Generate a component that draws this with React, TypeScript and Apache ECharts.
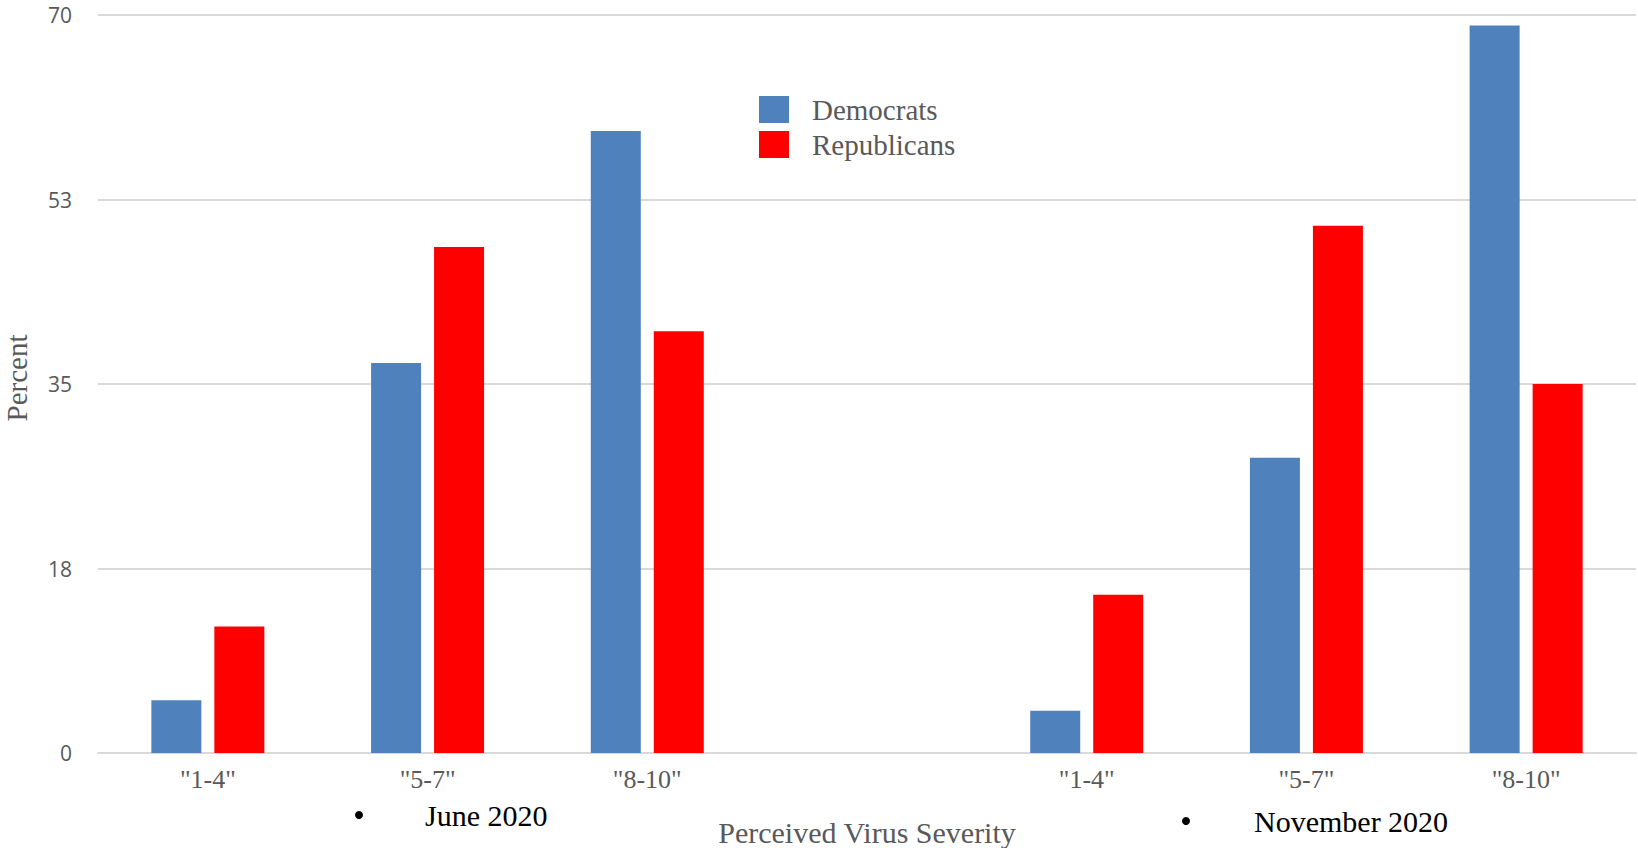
import React, { useEffect, useRef } from "react";
import * as echarts from "echarts";

const categories = ['"1-4"', '"5-7"', '"8-10"', "", '"1-4"', '"5-7"', '"8-10"'];
const democrats = [5, 37, 59, null, 4, 28, 69];
const republicans = [12, 48, 40, null, 15, 50, 35];
const seriesNames = ["Democrats", "Republicans"];
const periodLabels = ["June 2020", "November 2020"];
const xAxisTitle = "Perceived Virus Severity";
const yAxisTitle = "Percent";

const SERIF = '"Liberation Serif", "DejaVu Serif", serif';
const SANS = '"Open Sans", "Noto Sans", sans-serif';
const GRAY = "#595959";

export default function App() {
  const ref = useRef<HTMLDivElement>(null);
  useEffect(() => {
    if (!ref.current) return;
    const chart = echarts.init(ref.current, null, { renderer: "svg" });
    chart.setOption({
      animation: false,
      backgroundColor: "#ffffff",
      grid: { left: 98, right: 2, top: 15, bottom: 95, containLabel: false },
      legend: {
        orient: "vertical",
        left: 754,
        top: 90,
        itemWidth: 30,
        itemHeight: 27,
        itemGap: 6,
        icon: "rect",
        data: seriesNames,
        textStyle: {
          fontFamily: SERIF,
          fontSize: 29,
          color: GRAY,
          padding: [0, 0, 0, 18],
        },
      },
      xAxis: {
        type: "category",
        data: categories,
        axisTick: { show: false },
        axisLine: { lineStyle: { color: "#d9d9d9", width: 2 } },
        axisLabel: {
          interval: 0,
          margin: 13,
          fontFamily: SERIF,
          fontSize: 26,
          color: GRAY,
        },
      },
      yAxis: {
        type: "value",
        min: 0,
        max: 70,
        interval: 17.5,
        axisLine: { show: false },
        axisTick: { show: false },
        splitLine: { lineStyle: { color: "#d9d9d9", width: 2 } },
        axisLabel: {
          margin: 26,
          fontFamily: SANS,
          fontSize: 21,
          color: GRAY,
          formatter: (v: number) => String(Math.round(v)),
        },
      },
      series: [
        {
          name: seriesNames[0],
          type: "bar",
          data: democrats,
          barWidth: 50,
          barGap: "26%",
          itemStyle: { color: "#4f81bd" },
        },
        {
          name: seriesNames[1],
          type: "bar",
          data: republicans,
          barWidth: 50,
          barGap: "26%",
          itemStyle: { color: "#ff0000" },
        },
      ],
      graphic: [
        {
          type: "text",
          x: 17,
          y: 378,
          rotation: Math.PI / 2,
          style: {
            text: yAxisTitle,
            fontFamily: SERIF,
            fontSize: 29,
            fill: GRAY,
            textAlign: "center",
            textVerticalAlign: "middle",
          },
        },
        {
          type: "text",
          x: 867,
          y: 832,
          style: {
            text: xAxisTitle,
            fontFamily: SERIF,
            fontSize: 30,
            fill: GRAY,
            textAlign: "center",
            textVerticalAlign: "middle",
          },
        },
        {
          type: "circle",
          shape: { cx: 359, cy: 815, r: 4 },
          style: { fill: "#000000" },
        },
        {
          type: "text",
          x: 425,
          y: 815,
          style: {
            text: periodLabels[0],
            fontFamily: SERIF,
            fontSize: 30,
            fill: "#000000",
            textAlign: "left",
            textVerticalAlign: "middle",
          },
        },
        {
          type: "circle",
          shape: { cx: 1186, cy: 821, r: 4 },
          style: { fill: "#000000" },
        },
        {
          type: "text",
          x: 1254,
          y: 821,
          style: {
            text: periodLabels[1],
            fontFamily: SERIF,
            fontSize: 30,
            fill: "#000000",
            textAlign: "left",
            textVerticalAlign: "middle",
          },
        },
      ],
    });
    return () => chart.dispose();
  }, []);
  return (
    <div
      ref={ref}
      style={{ position: "fixed", left: 0, top: 0, width: 1638, height: 848 }}
    />
  );
}
